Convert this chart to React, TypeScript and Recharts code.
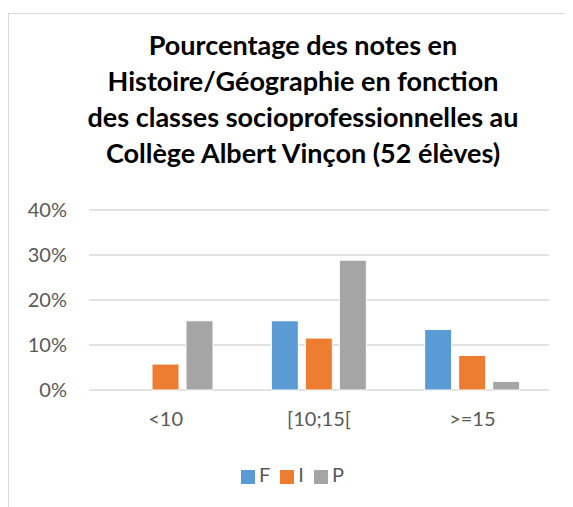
import { BarChart, Bar, XAxis, YAxis, CartesianGrid, Legend } from 'recharts';

const categories = ['<10', '[10;15[', '>=15'];
const seriesF = [0, 15.38, 13.46];
const seriesI = [5.77, 11.54, 7.69];
const seriesP = [15.38, 28.85, 1.92];
const yTicks = [0, 10, 20, 30, 40];
const titleLines = [
  'Pourcentage des notes en',
  'Histoire/Géographie en fonction',
  'des classes socioprofessionnelles au',
  'Collège Albert Vinçon (52 élèves)',
];

const data = categories.map((name, i) => ({
  name,
  F: seriesF[i],
  I: seriesI[i],
  P: seriesP[i],
}));

const font = 'Lato, "Open Sans", sans-serif';
const tickStyle = { fill: '#595959', fontSize: 20, fontFamily: font };

export default function App() {
  return (
    <div style={{ width: 565, height: 499, overflow: 'hidden', position: 'relative', fontFamily: font }}>
      <div
        style={{
          position: 'absolute',
          left: 0,
          top: 5,
          width: 600,
          height: 520,
          border: '1px solid #D9D9D9',
          boxSizing: 'border-box',
          background: '#fff',
        }}
      >
        <div
          style={{
            position: 'absolute',
            left: 0,
            top: 13,
            width: 588,
            textAlign: 'center',
            fontWeight: 700,
            fontSize: 27,
            lineHeight: '36px',
            color: '#000',
          }}
        >
          {titleLines.map((l) => (
            <div key={l}>{l}</div>
          ))}
        </div>
        <div style={{ position: 'absolute', left: 0, top: 0 }}>
          <BarChart
            width={590}
            height={493}
            data={data}
            margin={{ top: 196, right: 50, left: 0, bottom: 53 }}
            barSize={27}
            barGap={7}
          >
            <CartesianGrid vertical={false} stroke="#D9D9D9" strokeWidth={1.5} />
            <XAxis
              dataKey="name"
              axisLine={false}
              tickLine={false}
              tickSize={0}
              tickMargin={22}
              height={40}
              tick={tickStyle}
            />
            <YAxis
              width={80}
              domain={[0, 40]}
              ticks={yTicks}
              axisLine={false}
              tickLine={false}
              tickSize={0}
              tickMargin={22}
              tick={tickStyle}
              tickFormatter={(v) => `${v}%`}
            />
            <Legend
              iconType="square"
              iconSize={14}
              formatter={(value) => <span style={{ color: '#595959' }}>{value}</span>}
              wrapperStyle={{ top: 448, bottom: 'auto', left: 0, width: 577, fontSize: 20, color: '#595959', fontFamily: font }}
            />
            <Bar dataKey="F" fill="#5B9BD5" stroke="#fff" strokeWidth={1} isAnimationActive={false} />
            <Bar dataKey="I" fill="#ED7D31" stroke="#fff" strokeWidth={1} isAnimationActive={false} />
            <Bar dataKey="P" fill="#A5A5A5" stroke="#fff" strokeWidth={1} isAnimationActive={false} />
          </BarChart>
        </div>
      </div>
    </div>
  );
}
